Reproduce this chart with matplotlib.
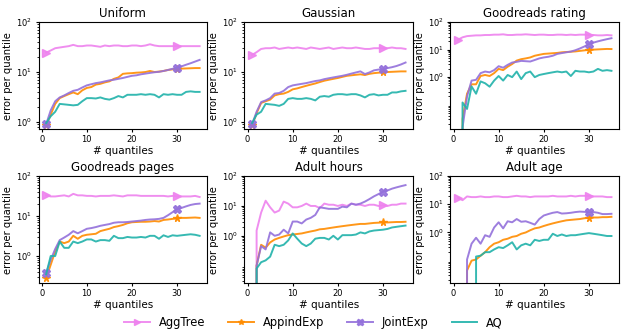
import numpy as np
import matplotlib
matplotlib.use("Agg")
import matplotlib.pyplot as plt
from matplotlib.ticker import LogLocator, FixedLocator, LogFormatterSciNotation, NullFormatter

x = list(range(1, 36))
titles = ["Uniform", "Gaussian", "Goodreads rating", "Goodreads pages", "Adult hours", "Adult age"]
methods = ["AggTree", "AppindExp", "JointExp", "AQ"]

aggtree = {
    "Uniform": [24.5, 27, 30, 31, 32, 33, 35, 33, 33, 34, 34, 33, 32, 34, 33, 34, 34, 33, 33, 34,
                34, 33, 34, 36, 34, 33, 33, 33, 33, 33, 33, 33, 33, 33, 33],
    "Gaussian": [22, 25, 29, 30, 30, 31, 29, 30, 31, 30, 31, 30, 29, 31, 30, 29, 30, 31, 29, 30,
                 31, 30, 30, 31, 30, 29, 29, 30, 30, 30, 30, 31, 30, 30, 29],
    "Goodreads rating": [23, 28, 31, 32, 33, 33, 34, 34, 35, 35, 36, 34, 34, 35, 35, 36, 35, 34, 35, 35,
                         34, 34, 35, 35, 34, 35, 34, 35, 35, 34, 34, 33, 33, 34, 33],
    "Goodreads pages": [33, 31, 31, 32, 33, 31, 36, 33, 33, 32, 32, 31, 32, 32, 32, 33, 32, 31, 33, 33,
                        33, 32, 32, 32, 32, 32, 32, 31, 32, 31, 31, 31, 31, 32, 30],
    "Adult hours": [0, 1.5, 6, 15, 9, 6, 7, 14, 12, 9, 9, 10, 12, 10, 10, 8.5, 12, 11, 11, 10,
                    11, 10, 12, 11, 11, 10, 11, 11, 10, 10.5, 10, 11, 11, 12, 12],
    "Adult age": [17, 14, 19, 18, 18, 19, 18, 18, 19, 19, 18, 18, 19, 20, 19, 19, 18, 19, 19, 19,
                  19, 20, 19, 19, 19, 20, 19, 20, 20, 20, 19, 19, 19, 18, 18],
}
appindexp = {
    "Uniform": [0.85, 1.4, 2.3, 3.0, 3.3, 3.6, 3.9, 3.6, 4.3, 4.8, 5.0, 5.6, 5.8, 6.2, 6.5, 7.3, 7.8, 9.2, 9.4, 9.5,
                9.7, 9.8, 10.0, 10.5, 10.0, 10.2, 10.5, 11.0, 11.3, 11.5, 11.7, 11.8, 11.9, 12.0, 12.0],
    "Gaussian": [0.85, 1.5, 2.4, 2.6, 2.8, 3.4, 3.6, 3.7, 4.0, 4.5, 4.7, 5.0, 5.3, 5.6, 5.9, 6.3, 6.7, 7.0, 7.3, 7.6,
                 8.0, 8.4, 8.6, 8.8, 9.0, 8.7, 9.2, 9.5, 9.7, 9.8, 10.0, 10.1, 10.2, 10.3, 10.3],
    "Goodreads rating": [0, 0.03, 0.25, 0.55, 0.55, 1.1, 1.2, 1.1, 1.4, 2.0, 1.8, 2.4, 3.0, 4.0, 4.5, 4.8, 5.2, 6.0, 6.5, 7.0,
                         7.2, 7.4, 7.6, 8.0, 8.2, 8.4, 8.6, 9.0, 9.4, 9.8, 10.0, 10.2, 10.4, 10.6, 10.5],
    "Goodreads pages": [0.28, 0.6, 1.3, 2.3, 2.1, 2.3, 3.2, 2.7, 3.2, 3.4, 3.5, 3.6, 4.2, 4.5, 4.8, 5.3, 5.6, 6.0, 6.6, 7.0,
                        7.1, 7.2, 7.2, 7.3, 7.5, 7.3, 8.0, 8.2, 8.5, 8.7, 9.0, 9.0, 9.1, 9.2, 9.0],
    "Adult hours": [0, 0.1, 0.5, 0.4, 0.6, 0.75, 0.85, 0.95, 1.05, 1.1, 1.15, 1.2, 1.3, 1.4, 1.5, 1.65, 1.7, 1.8, 1.9, 2.0,
                    2.1, 2.2, 2.3, 2.4, 2.5, 2.5, 2.6, 2.7, 2.75, 2.8, 2.8, 2.85, 2.9, 2.9, 2.95],
    "Adult age": [0, 0, 0.045, 0.1, 0.11, 0.15, 0.2, 0.3, 0.4, 0.45, 0.55, 0.6, 0.7, 0.75, 0.9, 1.0, 1.2, 1.4, 1.5, 1.7,
                  1.9, 2.1, 2.3, 2.5, 2.7, 2.8, 2.9, 3.0, 3.2, 3.3, 3.4, 3.4, 3.5, 3.5, 3.6],
}
jointexp = {
    "Uniform": [0.9, 1.7, 2.6, 3.1, 3.4, 3.8, 4.2, 4.4, 4.9, 5.4, 5.7, 6.0, 6.2, 6.5, 6.8, 7.0, 7.3, 7.6, 8.0, 8.4,
                8.6, 9.0, 9.3, 9.6, 9.9, 10.1, 10.5, 11.0, 11.6, 12.2, 13.0, 14.0, 15.0, 16.2, 17.5],
    "Gaussian": [0.9, 1.6, 2.5, 2.7, 3.0, 3.7, 3.8, 4.2, 5.0, 5.4, 5.6, 5.8, 6.0, 6.3, 6.6, 6.8, 7.2, 7.5, 7.8, 8.1,
                 8.4, 8.8, 9.3, 9.8, 10.3, 9.1, 9.8, 10.8, 11.2, 11.3, 12.0, 12.5, 13.2, 14.2, 15.5],
    "Goodreads rating": [0, 0.015, 0.2, 0.75, 0.8, 1.4, 1.6, 1.5, 1.8, 2.5, 2.2, 2.8, 3.4, 3.6, 3.9, 3.8, 3.7, 4.2, 4.8, 5.2,
                         5.5, 6.0, 7.0, 7.5, 8.0, 8.5, 9.5, 11.0, 13.0, 16.0, 18.0, 20.0, 22.0, 24.0, 26.0],
    "Goodreads pages": [0.38, 0.8, 1.5, 2.5, 2.9, 3.4, 4.2, 3.7, 4.2, 4.8, 5.0, 5.3, 5.7, 6.0, 6.3, 6.8, 7.0, 7.0, 7.1, 7.3,
                        7.5, 7.7, 8.0, 8.2, 8.3, 8.5, 9.0, 10.5, 12.5, 15.0, 16.0, 17.5, 19.0, 20.0, 20.5],
    "Adult hours": [0, 0.1, 0.45, 0.35, 1.3, 1.0, 1.1, 1.6, 1.2, 3.0, 3.0, 2.6, 3.5, 4.0, 5.0, 9.0, 8.5, 8.0, 8.0, 8.0,
                    9.5, 9.0, 12.0, 11.0, 12.0, 14.0, 17.0, 21.0, 25.0, 30.0, 33.0, 38.0, 42.0, 46.0, 50.0],
    "Adult age": [0, 0, 0.11, 0.4, 0.65, 0.4, 0.8, 0.7, 1.5, 2.3, 1.4, 2.5, 2.3, 3.0, 2.4, 2.5, 2.2, 1.9, 3.0, 4.0,
                  4.5, 5.0, 5.3, 4.7, 4.8, 5.0, 5.3, 5.5, 5.4, 5.2, 5.3, 5.0, 4.5, 4.5, 4.6],
}
aq = {
    "Uniform": [0.95, 1.3, 1.6, 2.3, 2.25, 2.2, 2.15, 2.2, 2.6, 3.0, 3.0, 2.95, 3.1, 2.9, 2.8, 3.0, 3.3, 3.1, 3.5, 3.5,
                3.5, 3.6, 3.5, 3.6, 3.5, 3.1, 3.6, 3.5, 3.6, 3.5, 3.5, 4.0, 4.1, 4.0, 4.0],
    "Gaussian": [0.95, 1.4, 1.6, 2.3, 2.25, 2.2, 2.1, 2.3, 2.9, 3.0, 2.9, 2.9, 3.0, 2.9, 2.7, 3.2, 3.3, 3.2, 3.5, 3.6,
                 3.6, 3.5, 3.6, 3.6, 3.4, 3.1, 3.5, 3.6, 3.4, 3.5, 3.5, 3.9, 3.9, 4.1, 4.2],
    "Goodreads rating": [0, 0.12, 0.07, 0.46, 0.25, 0.7, 0.6, 0.45, 0.75, 1.1, 0.75, 1.2, 1.0, 1.6, 0.85, 1.4, 1.6, 1.0, 1.2, 1.3,
                         1.4, 1.5, 1.6, 1.5, 1.6, 1.1, 1.7, 1.6, 1.6, 1.5, 1.6, 2.0, 1.7, 1.8, 1.7],
    "Goodreads pages": [0.35, 1.0, 1.0, 2.3, 1.6, 1.6, 2.3, 2.1, 2.3, 2.6, 2.6, 2.3, 2.5, 2.5, 2.4, 3.2, 2.8, 2.8, 3.0, 2.9,
                        2.9, 3.0, 2.9, 3.2, 3.2, 2.7, 3.3, 3.0, 3.3, 3.2, 3.3, 3.4, 3.5, 3.4, 3.2],
    "Adult hours": [0, 0.08, 0.13, 0.15, 0.2, 0.5, 0.45, 0.5, 0.7, 1.2, 0.8, 0.55, 0.45, 0.55, 0.8, 0.85, 0.85, 0.75, 1.0, 0.75,
                    1.05, 1.05, 1.05, 1.1, 1.3, 1.2, 1.4, 1.5, 1.55, 1.6, 1.7, 1.9, 2.0, 2.1, 2.2],
    "Adult age": [0, 0, 0, 0, 0.14, 0.15, 0.2, 0.2, 0.25, 0.3, 0.28, 0.35, 0.45, 0.25, 0.35, 0.4, 0.35, 0.55, 0.5, 0.55,
                  0.55, 0.9, 0.75, 0.85, 0.75, 0.8, 0.8, 0.85, 0.9, 0.95, 0.9, 0.85, 0.8, 0.75, 0.75],
}
ylims = {
    "Uniform": (0.72, 100), "Gaussian": (0.72, 100), "Goodreads rating": (0.013, 100),
    "Goodreads pages": (0.21, 100), "Adult hours": (0.026, 100), "Adult age": (0.016, 100),
}

series = [aggtree, appindexp, jointexp, aq]
colors = ["violet", "darkorange", "mediumpurple", "lightseagreen"]
markers = [">", "*", "X", None]

fig, axes = plt.subplots(2, 3, figsize=(6.21, 3.35), dpi=100)
fig.subplots_adjust(left=0.062, right=0.997, top=0.934, bottom=0.155, wspace=0.22, hspace=0.44)

handles = []
for ax, t in zip(axes.flat, titles):
    for s, name, c, m in zip(series, methods, colors, markers):
        vals = np.array(s[t], dtype=float)
        h, = ax.plot(x, vals, color=c, marker=m, markevery=[0, 29], markersize=5.5,
                     linewidth=1.4, alpha=0.9, label=name)
        if t == titles[0]:
            handles.append(h)
    ax.set_yscale("log")
    ax.set_ylim(*ylims[t])
    ax.yaxis.set_major_locator(FixedLocator([1, 10, 100]))
    ax.yaxis.set_major_formatter(LogFormatterSciNotation())
    ax.yaxis.set_minor_locator(LogLocator(subs=np.arange(2, 10)))
    ax.yaxis.set_minor_formatter(NullFormatter())
    ax.set_xticks([0, 10, 20, 30])
    ax.tick_params(labelsize=6, length=2.5, pad=2)
    ax.tick_params(which="minor", length=1.5)
    ax.set_title(t, fontsize=8.5, pad=4)
    ax.set_xlabel("# quantiles", fontsize=7.5, labelpad=1)
    ax.set_ylabel("error per quantile", fontsize=7.2, labelpad=2)

fig.legend(handles=handles, labels=methods, loc="center", bbox_to_anchor=(0.505, 0.036),
           ncol=4, frameon=False, fontsize=8.3, handlelength=2.2, columnspacing=2.0,
           markerscale=0.8)

fig.savefig("out.png", dpi=100)
